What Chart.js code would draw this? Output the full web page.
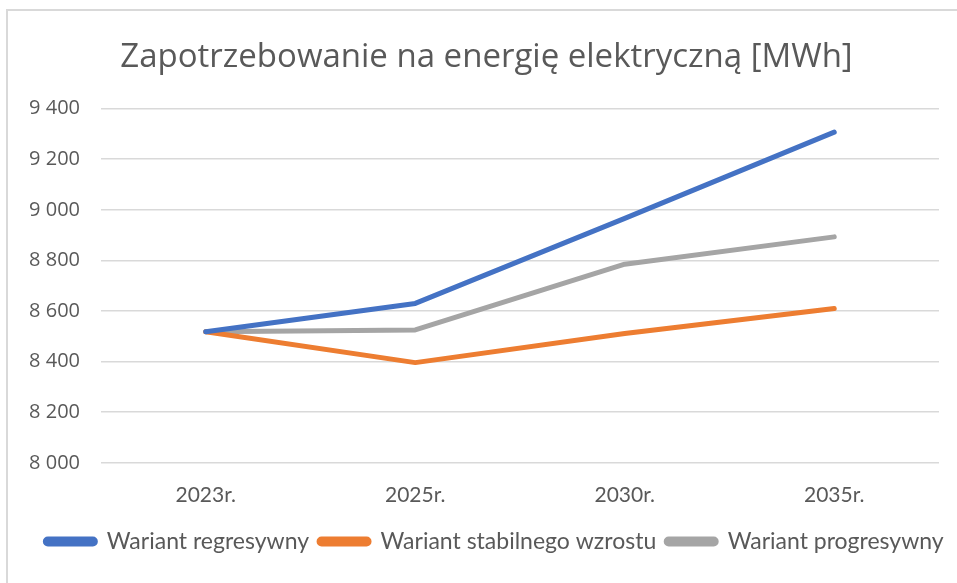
<!DOCTYPE html>
<html><head><meta charset="utf-8">
<script src="https://cdn.jsdelivr.net/npm/chart.js@4"></script>
<style>html,body{margin:0;padding:0;background:#fff;overflow:hidden}#w{position:absolute;left:0;top:0;width:957px;height:583px}</style>
</head><body><div id="w"><canvas id="c" width="957" height="583"></canvas></div>
<script>
const categories = ['2023r.', '2025r.', '2030r.', '2035r.'];
const seriesNames = ['Wariant regresywny', 'Wariant stabilnego wzrostu', 'Wariant progresywny'];
const regresywny = [8518, 8630, 8966, 9307];
const stabilny = [8518, 8396, 8511, 8610];
const progresywny = [8518, 8525, 8785, 8893];
const seriesColors = ['#4472C4', '#ED7D31', '#A5A5A5'];
const yTicksMin = 8000, yTicksMax = 9400, yTicksStep = 200;
const chartTitle = 'Zapotrzebowanie na energię elektryczną [MWh]';

const frame = {
  id: 'frame',
  beforeDraw(chart) {
    const c = chart.ctx;
    c.save();
    c.fillStyle = '#fff';
    c.fillRect(0, 0, chart.width, chart.height);
    c.strokeStyle = '#d9d9d9';
    c.lineWidth = 2;
    c.beginPath();
    c.moveTo(7, chart.height);
    c.lineTo(7, 10);
    c.lineTo(chart.width, 10);
    c.stroke();
    c.restore();
  },
  afterLayout(chart) {
    if (chart.titleBlock) chart.titleBlock.left = 34;
    if (chart.legend) { chart.legend.left += 25; chart.legend.right += 25; }
  }
};

const fmt = v => String(v).replace(/\B(?=(\d{3})+(?!\d))/g, ' ');
const vals = [regresywny, stabilny, progresywny];

new Chart(document.getElementById('c'), {
  type: 'line',
  data: {
    labels: categories,
    datasets: seriesNames.map((n, i) => ({
      label: n,
      data: vals[i],
      borderColor: seriesColors[i],
      backgroundColor: seriesColors[i],
      borderWidth: 5,
      pointRadius: 0,
      tension: 0,
      borderCapStyle: 'round',
      borderJoinStyle: 'round'
    }))
  },
  options: {
    responsive: false,
    animation: false,
    layout: { padding: { left: 0, right: 18, top: 38, bottom: 20 } },
    plugins: {
      title: {
        display: true,
        text: chartTitle,
        color: '#595959',
        font: { family: 'Open Sans', size: 33, weight: 'normal' },
        padding: { top: 0, bottom: 31 }
      },
      legend: {
        position: 'bottom',
        labels: {
          color: '#595959',
          font: { family: 'Lato', size: 23 },
          boxWidth: 50,
          boxHeight: 5,
          useBorderRadius: true,
          borderRadius: 2.5,
          padding: 10
        }
      },
      tooltip: { enabled: false }
    },
    scales: {
      x: {
        offset: true,
        grid: { display: false },
        border: { display: false },
        ticks: { color: '#595959', font: { family: 'Lato', size: 21 }, padding: 12 }
      },
      y: {
        min: yTicksMin,
        max: yTicksMax,
        border: { display: false },
        grid: { color: '#d9d9d9', lineWidth: 1.5, drawTicks: false },
        afterFit(s) { s.width = 101; },
        ticks: {
          stepSize: yTicksStep,
          padding: 21,
          color: '#595959',
          font: { family: 'Open Sans', size: 20 },
          callback: v => fmt(v)
        }
      }
    }
  },
  plugins: [frame]
});
</script>
</body></html>
